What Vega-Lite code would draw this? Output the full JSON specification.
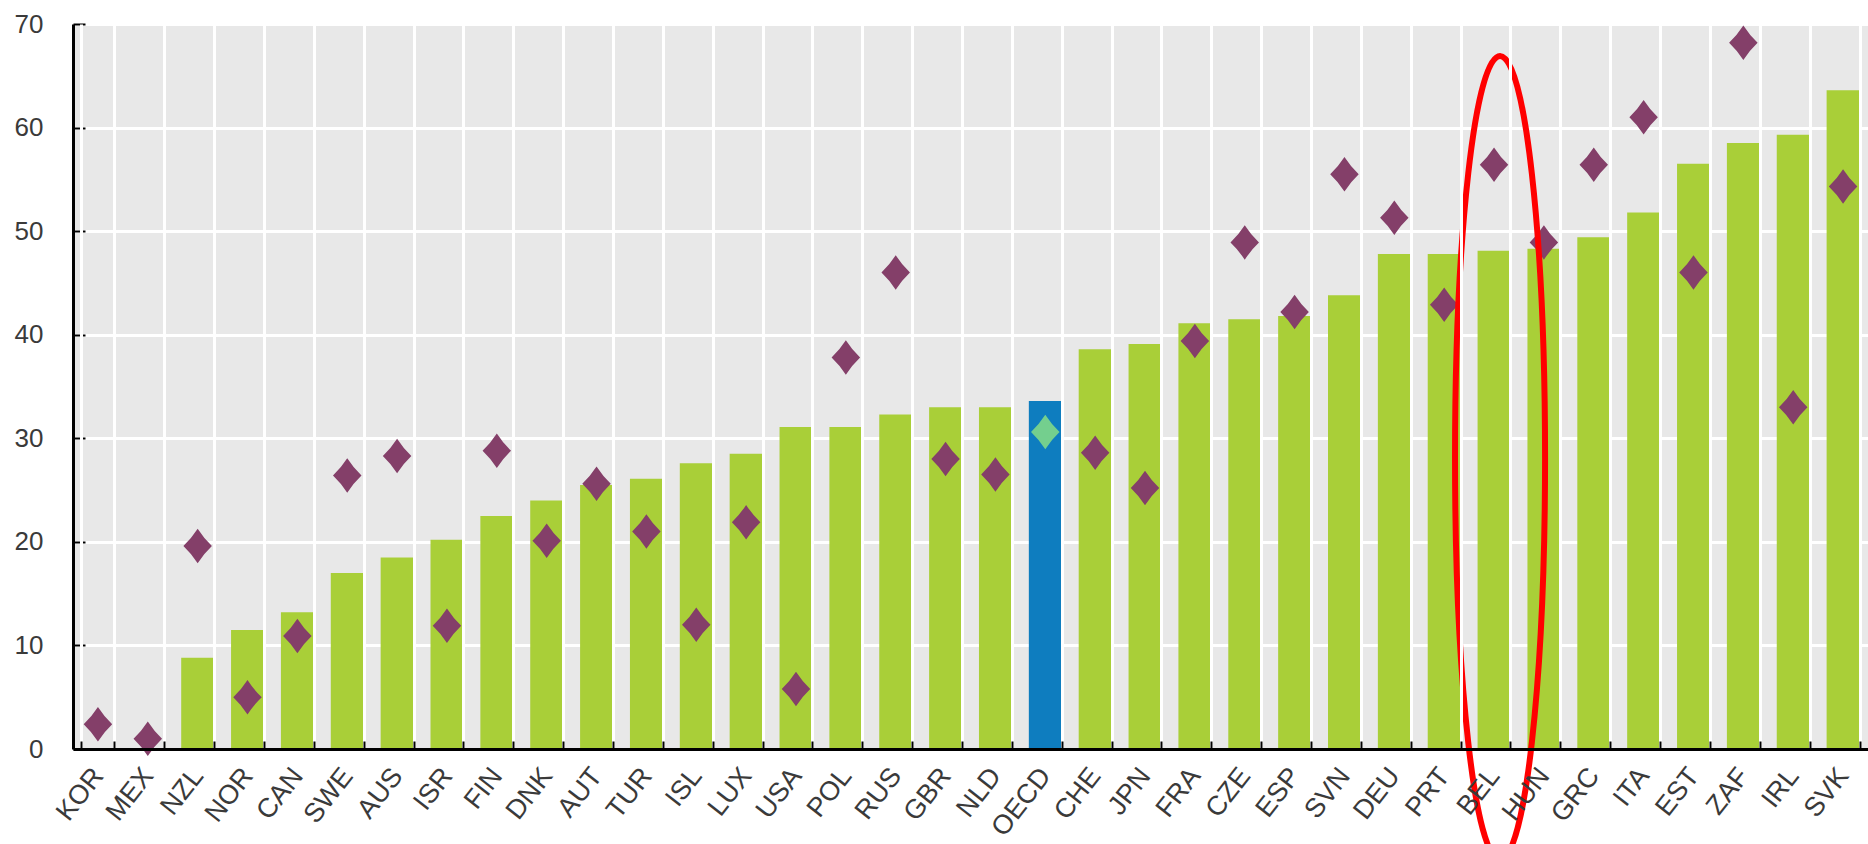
{
  "$schema": "https://vega.github.io/schema/vega-lite/v6.json",
  "width": 1795,
  "height": 725,
  "autosize": {"type": "none"},
  "padding": {"left": 73, "top": 24, "right": 0, "bottom": 95},
  "background": "white",
  "config": {"view": {"fill": "#e8e8e8", "stroke": null}},
  "data": {"values": [
    {"country": "KOR", "bar": null, "diamond": 2.4, "group": "country", "highlight": false},
    {"country": "MEX", "bar": null, "diamond": 1.0, "group": "country", "highlight": false},
    {"country": "NZL", "bar": 8.8, "diamond": 19.6, "group": "country", "highlight": false},
    {"country": "NOR", "bar": 11.5, "diamond": 5.0, "group": "country", "highlight": false},
    {"country": "CAN", "bar": 13.2, "diamond": 10.9, "group": "country", "highlight": false},
    {"country": "SWE", "bar": 17.0, "diamond": 26.4, "group": "country", "highlight": false},
    {"country": "AUS", "bar": 18.5, "diamond": 28.3, "group": "country", "highlight": false},
    {"country": "ISR", "bar": 20.2, "diamond": 11.9, "group": "country", "highlight": false},
    {"country": "FIN", "bar": 22.5, "diamond": 28.8, "group": "country", "highlight": false},
    {"country": "DNK", "bar": 24.0, "diamond": 20.1, "group": "country", "highlight": false},
    {"country": "AUT", "bar": 25.5, "diamond": 25.6, "group": "country", "highlight": false},
    {"country": "TUR", "bar": 26.1, "diamond": 21.0, "group": "country", "highlight": false},
    {"country": "ISL", "bar": 27.6, "diamond": 12.0, "group": "country", "highlight": false},
    {"country": "LUX", "bar": 28.5, "diamond": 21.9, "group": "country", "highlight": false},
    {"country": "USA", "bar": 31.1, "diamond": 5.8, "group": "country", "highlight": false},
    {"country": "POL", "bar": 31.1, "diamond": 37.8, "group": "country", "highlight": false},
    {"country": "RUS", "bar": 32.3, "diamond": 46.0, "group": "country", "highlight": false},
    {"country": "GBR", "bar": 33.0, "diamond": 28.0, "group": "country", "highlight": false},
    {"country": "NLD", "bar": 33.0, "diamond": 26.5, "group": "country", "highlight": false},
    {"country": "OECD", "bar": 33.6, "diamond": 30.6, "group": "OECD", "highlight": false},
    {"country": "CHE", "bar": 38.6, "diamond": 28.6, "group": "country", "highlight": false},
    {"country": "JPN", "bar": 39.1, "diamond": 25.2, "group": "country", "highlight": false},
    {"country": "FRA", "bar": 41.1, "diamond": 39.4, "group": "country", "highlight": false},
    {"country": "CZE", "bar": 41.5, "diamond": 48.9, "group": "country", "highlight": false},
    {"country": "ESP", "bar": 41.8, "diamond": 42.2, "group": "country", "highlight": false},
    {"country": "SVN", "bar": 43.8, "diamond": 55.5, "group": "country", "highlight": false},
    {"country": "DEU", "bar": 47.8, "diamond": 51.3, "group": "country", "highlight": false},
    {"country": "PRT", "bar": 47.8, "diamond": 42.9, "group": "country", "highlight": false},
    {"country": "BEL", "bar": 48.1, "diamond": 56.4, "group": "country", "highlight": true},
    {"country": "HUN", "bar": 48.3, "diamond": 48.9, "group": "country", "highlight": false},
    {"country": "GRC", "bar": 49.4, "diamond": 56.4, "group": "country", "highlight": false},
    {"country": "ITA", "bar": 51.8, "diamond": 61.0, "group": "country", "highlight": false},
    {"country": "EST", "bar": 56.5, "diamond": 46.0, "group": "country", "highlight": false},
    {"country": "ZAF", "bar": 58.5, "diamond": 68.2, "group": "country", "highlight": false},
    {"country": "IRL", "bar": 59.3, "diamond": 33.0, "group": "country", "highlight": false},
    {"country": "SVK", "bar": 63.6, "diamond": 54.3, "group": "country", "highlight": false}
  ]},
  "encoding": {
    "x": {
      "field": "country",
      "type": "nominal",
      "sort": null,
      "scale": {"paddingInner": 0.34, "paddingOuter": 0.17},
      "axis": {
        "title": null,
        "zindex": 1,
        "domain": true,
        "domainColor": "#000000",
        "domainWidth": 3,
        "ticks": true,
        "tickBand": "extent",
        "tickColor": "#000000",
        "tickWidth": 2,
        "tickSize": -8,
        "grid": true,
        "gridColor": "#ffffff",
        "gridWidth": 3,
        "labelAngle": -52,
        "labelAlign": "right",
        "labelBaseline": "middle",
        "labelPadding": 30,
        "labelFont": "Liberation Sans",
        "labelFontSize": 27,
        "labelColor": "#3a3a3a"
      }
    }
  },
  "layer": [
    {
      "mark": {"type": "bar", "invalid": "show"},
      "encoding": {
        "y": {
          "field": "bar",
          "type": "quantitative",
          "scale": {"domain": [0, 70], "nice": false},
          "axis": {
            "title": null,
            "values": [0, 10, 20, 30, 40, 50, 60, 70],
            "domain": true,
            "domainColor": "#000000",
            "domainWidth": 3,
            "ticks": true,
            "tickColor": "#000000",
            "tickWidth": 2,
            "tickSize": -12,
            "labelPadding": 42,
            "grid": true,
            "gridColor": "#ffffff",
            "gridWidth": 3,
            "labelFont": "Liberation Sans",
            "labelFontSize": 26,
            "labelColor": "#3a3a3a"
          }
        },
        "color": {
          "field": "group",
          "type": "nominal",
          "scale": {"domain": ["country", "OECD"], "range": ["#a9cf38", "#0e7dbf"]},
          "legend": null
        }
      }
    },
    {
      "mark": {
        "type": "point",
        "shape": "M0,-1.15 Q0.42,-0.5 0.95,0 Q0.42,0.5 0,1.15 Q-0.42,0.5 -0.95,0 Q-0.42,-0.5 0,-1.15 Z",
        "size": 900,
        "filled": true,
        "opacity": 1
      },
      "encoding": {
        "y": {"field": "diamond", "type": "quantitative", "axis": {"title": null}},
        "fill": {
          "field": "group",
          "type": "nominal",
          "scale": {"domain": ["country", "OECD"], "range": ["#843f69", "#74cf8e"]},
          "legend": null
        }
      }
    },
    {
      "transform": [{"filter": {"field": "highlight", "equal": true}}],
      "mark": {
        "type": "point",
        "shape": "M0,-1 C0.0618,-1 0.112,-0.552 0.112,0 C0.112,0.552 0.0618,1 0,1 C-0.0618,1 -0.112,0.552 -0.112,0 C-0.112,-0.552 -0.0618,-1 0,-1 Z",
        "size": 646416,
        "filled": false,
        "stroke": "#ff0000",
        "strokeWidth": 6,
        "opacity": 1,
        "xOffset": 6
      },
      "encoding": {
        "y": {"datum": 28.1, "type": "quantitative", "axis": {"title": null}}
      }
    }
  ]
}
